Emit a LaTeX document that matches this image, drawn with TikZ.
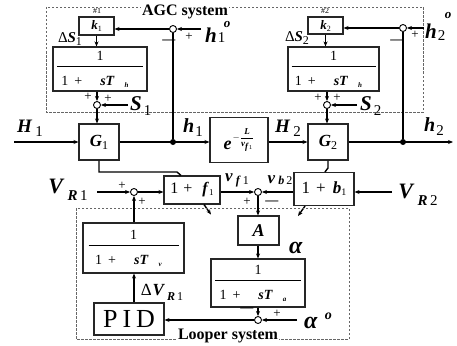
\documentclass[tikz,border=0pt]{standalone}
\usepackage{fontspec}
\setmainfont{Liberation Serif}
\usetikzlibrary{positioning, arrows.meta, calc}

\newcommand{\bi}[1]{\textbf{\textit{#1}}}
\newcommand{\fsz}[1]{\fontsize{#1}{#1}\selectfont}
\newcommand{\lagfrac}[2]{1\\[-7pt]\rule{#1}{0.8pt}\\[4pt]1\hspace{6pt}+\hspace{18pt}\bi{sT}\hspace{10pt}\raisebox{-2pt}{\fsz{7}\bi{#2}}\kern10pt}

\begin{document}
\begin{tikzpicture}[
  x=1pt, y=-1pt,
  blk/.style={draw=black!85, line width=1.1pt, inner sep=0pt, align=center},
  sumj/.style={draw, circle, line width=0.9pt, minimum size=7pt, inner sep=0pt, fill=white},
  dot/.style={circle, fill, minimum size=6pt, inner sep=0pt},
  sig/.style={line width=1.4pt, -{Stealth[length=5pt, width=4pt]}},
  wire/.style={line width=1.4pt},
  sgn/.style={font=\fsz{13}, inner sep=0pt},
  big/.style={font=\fsz{18}, inner sep=0pt},
  grp/.style={draw=black!60, dash pattern=on 2.5pt off 1.5pt, line width=0.8pt},
  ttl/.style={font=\fsz{16}\bfseries, fill=white, inner sep=1pt},
]
  \useasboundingbox (0,0) rectangle (457,345);

  % AGC system
  \draw[grp] (46,7) rectangle (423,112);
  \node[ttl] (agc) at (185,12) {AGC system};

  \node[blk, minimum width=35pt, minimum height=18pt, font=\fsz{13}] (k1) at (96.5,26) {\bi{k}\raisebox{-2pt}{\fsz{8}1}};
  \node[font=\fsz{8}, inner sep=0pt] (n1) at (97,11) {\#1};
  \node[blk, minimum width=94pt, minimum height=44pt, font=\fsz{14}] (tf1) at (100,69) {\lagfrac{86pt}{h}};
  \node[font=\fsz{15}, inner sep=0pt] (dS1) at (70,39) {Δ\bi{S}\raisebox{-3pt}{\fsz{12}1}};
  \node[sumj] (s1) at (97,105) {};
  \node[sgn] (s1a) at (88,97) {+};
  \node[sgn] (s1b) at (108,99) {+};
  \coordinate (S1in) at (128,105);
  \node[big, font=\fsz{21}, anchor=west] (S1) at (130,106) {\bi{S}\kern2pt\raisebox{-5pt}{\fsz{15}1}};

  \node[sumj] (c1) at (173,29) {};
  \coordinate (h1oin) at (201,29);
  \node[big, font=\fsz{21}, anchor=base west] (h1o) at (205,42) {\bi{h}\kern1pt\rlap{\raisebox{-1pt}{\fsz{15}1}}\raisebox{14pt}{\kern6pt\fsz{13}\bi{o}}};
  \node[sgn] (c1p) at (189,37) {+};
  \node[sgn] (c1m) at (169,42) {\textbf{—}};

  \node[blk, minimum width=35pt, minimum height=17pt, font=\fsz{13}] (k2) at (325.5,25.5) {\bi{k}\raisebox{-2pt}{\fsz{8}2}};
  \node[font=\fsz{8}, inner sep=0pt] (n2) at (325,11) {\#2};
  \node[blk, minimum width=91pt, minimum height=44pt, font=\fsz{14}] (tf2) at (333.5,69) {\lagfrac{84pt}{h}};
  \node[font=\fsz{15}, inner sep=0pt] (dS2) at (297,38) {Δ\bi{S}\raisebox{-3pt}{\fsz{12}2}};
  \node[sumj] (s2) at (327,105) {};
  \node[sgn] (s2a) at (318,98) {+};
  \node[sgn] (s2b) at (337,98) {+};
  \coordinate (S2in) at (357,105);
  \node[big, font=\fsz{21}, anchor=west] (S2) at (360,106) {\bi{S}\kern2pt\raisebox{-5pt}{\fsz{15}2}};

  \node[sumj] (c2) at (403,28) {};
  \coordinate (h2oin) at (424,28);
  \node[big, font=\fsz{21}, anchor=base west] (h2o) at (425,38) {\bi{h}\kern1pt\rlap{\raisebox{-2pt}{\fsz{15}2}}\raisebox{20pt}{\kern7pt\fsz{13}\bi{o}}};
  \node[sgn] (c2p) at (415,35) {+};
  \node[sgn] (c2m) at (397,42) {\textbf{—}};

  % plant
  \coordinate (inH) at (14,142);
  \node[big, font=\fsz{19}] (H1) at (30,128) {\bi{H}\kern3pt\raisebox{-4pt}{\fsz{15}1}};
  \node[blk, minimum width=40pt, minimum height=36pt, font=\fsz{17}] (G1) at (99,142) {\bi{G}\raisebox{-3pt}{\fsz{12}1}};
  \node[dot] (h1d) at (173,142) {};
  \node[big, font=\fsz{20}] (h1) at (193,128) {\bi{h}\kern1pt\raisebox{-4pt}{\fsz{15}1}};
  \node[blk, minimum width=58pt, minimum height=45pt, font=\fsz{18}] (dly) at (239,140) {\bi{e}\kern1pt\raisebox{9pt}{\fsz{9}$-{\displaystyle\frac{\bi{L}}{\bi{v}_{\bi{f}1}}}$}};
  \node[big, font=\fsz{19}] (H2) at (288,128) {\bi{H}\kern3pt\raisebox{-4pt}{\fsz{15}2}};
  \node[blk, minimum width=40pt, minimum height=36pt, font=\fsz{17}] (G2) at (328,142) {\bi{G}\raisebox{-3pt}{\fsz{12}2}};
  \node[dot] (h2d) at (403,142) {};
  \coordinate (h2out) at (453,142);
  \node[big, font=\fsz{20}] (h2) at (434,127) {\bi{h}\kern1pt\raisebox{-4pt}{\fsz{15}2}};

  \draw[sig] (h1oin) -- (c1);
  \draw[sig] (c1) -- (c1 -| k1.east);
  \draw[sig] (k1.south) -- (k1.south |- tf1.north);
  \draw[sig] (tf1.south -| s1) -- (s1);
  \draw[sig] (S1in) -- (s1);
  \draw[sig] (s1) -- (s1 |- G1.north);
  \draw[wire] (c1) -- (h1d);
  \draw[sig] (h2oin) -- (c2);
  \draw[sig] (c2) -- (c2 -| k2.east);
  \draw[sig] (k2.south) -- (k2.south |- tf2.north);
  \draw[sig] (tf2.south -| s2) -- (s2);
  \draw[sig] (S2in) -- (s2);
  \draw[sig] (s2) -- (s2 |- G2.north);
  \draw[wire] (c2) -- (h2d);
  \draw[sig] (inH) -- (G1);
  \draw[sig] (G1.east) -- (dly.west |- G1.east);
  \draw[sig] (dly.east |- G2) -- (G2.west);
  \draw[sig] (G2.east) -- (h2out);

  % mass flow
  \node[blk, minimum width=56pt, minimum height=28pt, font=\fsz{16}] (f1) at (192,190) {1\hspace{5pt}+\hspace{10pt}\bi{f}\raisebox{-2pt}{\fsz{9}1}};
  \node[sumj] (vr1) at (134,192) {};
  \coordinate (vr1in) at (97,192);
  \node[big, font=\fsz{22}] (VR1) at (68,190) {\bi{V}\kern3pt\raisebox{-7pt}{\fsz{15}\bi{R}\,1}};
  \node[sgn] (vr1a) at (122,186) {+};
  \node[sgn] (vr1b) at (142,202) {+};
  \node[sumj] (vb) at (258,192) {};
  \node[big, font=\fsz{17}] (vf1) at (237,180) {\bi{v}\kern3pt\raisebox{-3pt}{\fsz{12}\bi{f}\,1}};
  \node[big, font=\fsz{17}] (vb2) at (280,180) {\bi{v}\kern3pt\raisebox{-1pt}{\fsz{12}\bi{b}\,2}};
  \node[sgn] (vba) at (247,202) {+};
  \node[sgn] (vbm) at (272,203) {\textbf{—}};
  \node[blk, minimum width=60pt, minimum height=33pt, font=\fsz{17}] (b1) at (324,189) {1\hspace{6pt}+\hspace{7pt}\bi{b}\raisebox{-2pt}{\fsz{10}1}};
  \coordinate (vr2in) at (392,192);
  \node[big, font=\fsz{22}] (VR2) at (418,195) {\bi{V}\kern3pt\raisebox{-7pt}{\fsz{15}\bi{R}\,2}};
  \coordinate (j1) at (177,172);
  \coordinate (j2) at (328,168);

  \draw[wire] (G1.south) |- (j1) -- ([xshift=4pt]j1 |- f1.north);
  \draw[wire] (G2.south) -- (j2) -- ([xshift=-3pt]j2 |- b1.north);
  \draw[sig] (vr1in) -- (vr1);
  \draw[sig] (vr1) -- (vr1 -| f1.west);
  \draw[sig] (f1.east |- vb) -- (vb);
  \draw[sig] (b1.west |- vb) -- (vb);
  \draw[sig] (vr2in) -- (vr2in -| b1.east);
  \draw[sig] ([xshift=12pt]f1.south) -- ++(7,10);
  \draw[sig] ([xshift=-19pt]b1.south) -- ++(-7,10);

  % Looper system
  \draw[grp] (76,208) rectangle (349,339);
  \node[ttl] (lps) at (228,336) {Looper system};

  \node[blk, minimum width=101pt, minimum height=50pt, font=\fsz{14}] (tv) at (133.5,248) {\lagfrac{90pt}{v}};
  \node[font=\fsz{17}, inner sep=0pt] (dVR1) at (162,292) {Δ\kern1pt\bi{V}\kern2pt\raisebox{-5pt}{\fsz{12}\bi{R}\,1}};
  \node[blk, minimum width=70pt, minimum height=32pt, font=\fsz{26}] (pid) at (129,319) {P\hspace{5pt}I\hspace{5pt}D};
  \node[blk, minimum width=41pt, minimum height=29pt, font=\fsz{18}] (A) at (258.5,230.5) {\bi{A}};
  \node[blk, minimum width=94pt, minimum height=48pt, font=\fsz{14}] (ta) at (258,283) {\lagfrac{86pt}{a}};
  \node[big, font=\fsz{24}] (alp) at (296,248) {\bi{α}};
  \node[sumj] (al) at (258,320) {};
  \coordinate (alin) at (297,320);
  \node[big, font=\fsz{24}, anchor=west] (alo) at (304,321) {\bi{α}\kern7pt\raisebox{9pt}{\fsz{14}\bi{o}}};
  \node[sgn] (alm) at (247,310) {\textbf{—}};
  \node[sgn] (alp2) at (277,314) {+};

  \draw[sig] (vb) -- (vb |- A.north);
  \draw[sig] (A.south -| vb) -- (vb |- ta.north);
  \draw[sig] (ta.south -| al) -- (al);
  \draw[sig] (alin) -- (al);
  \draw[sig] (al) -- (al -| pid.east);
  \draw[sig] (pid.north -| vr1) -- (tv.south -| vr1);
  \draw[sig] (tv.north -| vr1) -- (vr1);
\end{tikzpicture}
\end{document}
